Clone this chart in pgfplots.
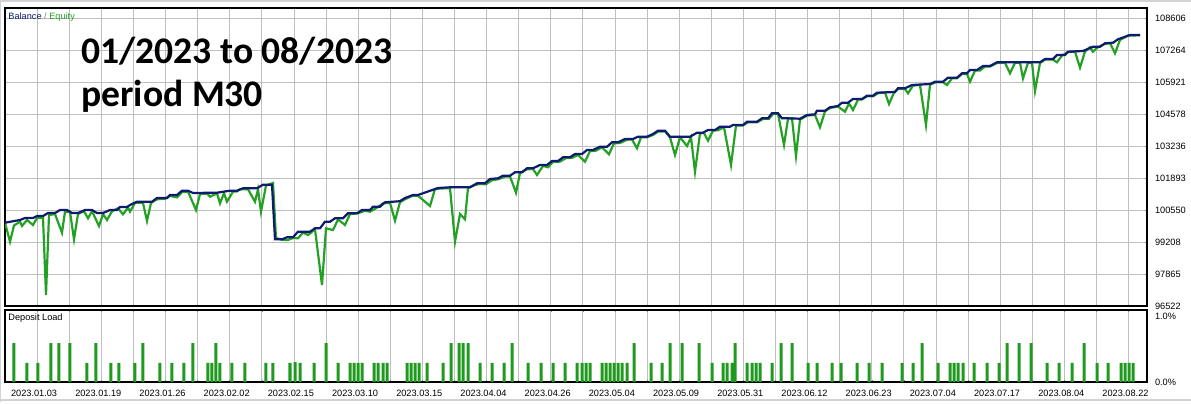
\documentclass[border=0pt]{standalone}
\usepackage{fontspec}
\setmainfont{Liberation Sans}
\newfontfamily\calibri{Carlito}
\usepackage{pgfplots}
\pgfplotsset{compat=1.18}
\definecolor{BalNavy}{HTML}{0F1B6E}
\definecolor{EqGreen}{HTML}{24A024}
\definecolor{BarGreen}{HTML}{1E9A1E}
\newcommand{\smallfnt}{\fontsize{4.6}{5}\selectfont}

\begin{document}
\begin{tikzpicture}
\useasboundingbox (0,0) rectangle (595.5pt,201.5pt);
\draw[gray!35, line width=0.8pt] (0,0.4pt) -- (0,201.1pt) -- (595.5pt,201.1pt);
\draw[gray!35, line width=0.8pt] (0,1.6pt) -- (595.5pt,1.6pt);

% balance / equity panel
\begin{axis}[
  at={(2.5pt,48.5pt)}, anchor=south west,
  scale only axis, width=571pt, height=149pt,
  xmin=5, xmax=1147, ymin=96522, ymax=109026,
  scaled x ticks=false, scaled y ticks=false,
  axis line style={black, line width=0.8pt},
  xtick={5,37.1,...,1140}, xticklabels={},
  xtick style={/pgfplots/major tick length=0pt},
  ytick={96522,97865,99208,100550,101893,103236,104578,105921,107264,108606},
  yticklabels={96522,97865,99208,100550,101893,103236,104578,105921,107264,108606},
  ytick pos=right, yticklabel pos=right,
  major tick length=1.2pt,
  yticklabel style={font=\smallfnt, anchor=west, xshift=0.5pt},
  grid=major,
]
\addplot[EqGreen, line width=1.1pt] coordinates {
(5,100017) (10,99220) (14,99900) (20,100060) (22,99880) (27,100130) (33,99921)
(37,100215) (43,100230) (46,96984) (49,100340) (55,100380) (62,99598) (65,100480)
(70,100480) (74,99321) (78,100380) (84,100500) (88,100202) (92,100500) (99,99879)
(103,100380) (107,100131) (112,100500) (118,100620) (123,100370) (128,100650)
(130,100479) (135,100850) (143,100850) (147,100089) (151,100850) (157,101000)
(165,101020) (170,101140) (177,101080) (182,101300) (188,101320) (196,100550)
(200,101220) (207,101240) (210,101108) (217,101250) (220,100831) (224,101250)
(227,100899) (233,101320) (237,101330) (240,101420) (248,101420) (255,100899)
(258,101420) (261,100479) (266,101580) (273,101683) (276,99375) (282,99300)
(288,99292) (293,99380) (298,99362) (303,99600) (308,99502) (315,99740)
(322,97403) (326,99780) (333,99711) (338,100150) (345,99921) (350,100380)
(358,100412) (365,100520) (370,100479) (377,100650) (383,100830) (390,100850)
(395,100101) (400,100880) (405,101000) (412,101140) (418,101150) (430,100718)
(435,101430) (440,101450) (450,101470) (455,99220) (460,100383) (465,100160)
(468,101473) (475,101600) (480,101640) (486,101630) (492,101800) (498,101840)
(505,101950) (510,101960) (516,101276) (520,102100) (527,102260) (533,102270)
(537,102019) (543,102400) (548,102342) (553,102570) (560,102580) (566,102730)
(572,102740) (578,102860) (585,102577) (590,103020) (596,103040) (602,103180)
(609,102888) (614,103350) (620,103360) (627,103500) (632,103510) (637,103139)
(641,103600) (647,103600) (653,103700) (658,103840) (665,103850) (670,103600)
(675,102858) (680,103600) (687,103236) (691,103600) (695,102157) (700,103770)
(704,103780) (708,103458) (713,103880) (718,103900) (724,104020) (731,102439)
(736,104090) (743,104100) (748,104230) (757,104230) (763,104370) (769,104380)
(773,104580) (778,104590) (784,103278) (788,104380) (792,104400) (796,102816)
(800,104340) (807,104510) (815,104540) (820,104020) (825,104690) (830,104830)
(838,104890) (845,104675) (849,105020) (853,104746) (858,105180) (862,105190)
(867,105320) (873,105320) (878,105450) (885,105480) (889,104998) (894,105480)
(898,105630) (905,105630) (908,105447) (913,105770) (920,105800) (926,104117)
(930,105810) (936,105910) (943,105910) (947,105795) (952,106080) (957,106080)
(962,106260) (967,106260) (970,105934) (975,106400) (980,106400) (985,106570)
(990,106570) (997,106720) (1005,106730) (1010,106286) (1015,106730) (1020,106730)
(1023,106076) (1028,106730) (1032,106730) (1035,105544) (1040,106720) (1045,106860)
(1053,106860) (1057,106748) (1062,107030) (1068,107170) (1075,107200) (1080,106521)
(1085,107200) (1090,107380) (1093,107193) (1098,107380) (1105,107520) (1110,107550)
(1115,107125) (1120,107690) (1128,107870) (1140,107880)
};
\addplot[BalNavy, line width=1.1pt] coordinates {
(5,100017) (20,100131) (25,100215) (33,100215) (37,100299) (43,100299) (48,100424)
(55,100424) (60,100550) (67,100550) (72,100424) (78,100424) (85,100550) (92,100550)
(97,100424) (103,100424) (110,100550) (117,100550) (120,100676) (127,100676)
(130,100760) (133,100823) (137,100899) (152,100899) (157,101054) (167,101054)
(170,101180) (177,101180) (182,101360) (188,101360) (193,101264) (200,101264)
(207,101276) (217,101276) (230,101360) (237,101360) (243,101461) (257,101461)
(263,101612) (272,101612) (275,99321) (282,99321) (287,99405) (293,99405)
(298,99640) (310,99640) (315,99782) (320,99782) (325,100059) (330,100059)
(335,100202) (343,100202) (348,100412) (357,100412) (362,100550) (370,100550)
(373,100689) (380,100689) (385,100873) (400,100920) (405,101054) (413,101180)
(418,101180) (438,101473) (450,101503) (470,101503) (477,101671) (485,101671)
(490,101851) (498,101880) (503,101990) (510,101990) (515,102132) (522,102132)
(527,102300) (533,102300) (540,102439) (547,102439) (552,102606) (558,102606)
(563,102762) (570,102762) (575,102900) (582,102900) (587,103068) (593,103068)
(600,103206) (607,103206) (612,103391) (618,103391) (625,103530) (633,103530)
(638,103626) (647,103626) (653,103739) (658,103878) (665,103878) (670,103626)
(690,103626) (697,103794) (703,103794) (708,103907) (715,103907) (720,104046)
(730,104046) (733,104117) (743,104117) (747,104255) (757,104255) (762,104398)
(768,104398) (772,104608) (778,104608) (782,104398) (788,104398) (800,104380)
(807,104537) (815,104566) (817,104717) (825,104717) (830,104860) (838,104914)
(842,105053) (848,105053) (853,105208) (862,105208) (867,105346) (873,105346)
(877,105472) (895,105502) (898,105657) (905,105657) (912,105795) (930,105837)
(935,105934) (943,105934) (948,106102) (957,106102) (962,106286) (967,106286)
(970,106425) (977,106425) (983,106593) (990,106593) (997,106748) (1040,106748)
(1045,106886) (1053,106886) (1057,107054) (1065,107054) (1068,107193) (1083,107222)
(1093,107402) (1100,107402) (1105,107545) (1113,107570) (1118,107713) (1130,107893)
(1140,107893)
};
\end{axis}

\node[anchor=west, font=\smallfnt, inner sep=0pt] at (4pt,193pt)
  {\textcolor{BalNavy}{Balance} \textcolor{gray}{/} \textcolor{EqGreen}{Equity}};
\node[anchor=base west, inner sep=0pt, font=\calibri\bfseries\fontsize{18.8}{20}\selectfont]
  at (40.5pt,170pt) {01/2023 to 08/2023};
\node[anchor=base west, inner sep=0pt, font=\calibri\bfseries\fontsize{18.8}{20}\selectfont]
  at (40.5pt,148.5pt) {period M30};

% deposit load panel
\begin{axis}[
  at={(2.5pt,10.5pt)}, anchor=south west,
  scale only axis, width=571pt, height=36pt,
  xmin=5, xmax=1147, ymin=0, ymax=1.09,
  axis line style={black, line width=0.8pt},
  xtick={5,37.1,...,1140},
  xticklabels={2023.01.03,,2023.01.19,,2023.01.26,,2023.02.02,,2023.02.15,,2023.03.10,,
    2023.03.15,,2023.04.04,,2023.04.26,,2023.05.04,,2023.05.09,,2023.05.31,,2023.06.12,,
    2023.06.23,,2023.07.04,,2023.07.17,,2023.08.04,,2023.08.22,},
  xticklabel style={font=\smallfnt, anchor=north west, xshift=-0.5pt, yshift=-0.5pt},
  ytick={0,1}, yticklabels={0.0\%,1.0\%},
  ytick pos=right, yticklabel pos=right,
  ytick style={/pgfplots/major tick length=0pt},
  yticklabel style={font=\smallfnt, anchor=west, xshift=0.5pt},
  major tick length=1.2pt,
  xmajorgrids=true,
]
\addplot[ybar, bar width=1.5pt, fill=BarGreen, draw=none] coordinates {
(14,0.59) (27,0.29) (38,0.29) (51,0.59) (59,0.59) (70,0.59) (87,0.29) (96,0.59)
(111,0.29) (119,0.29) (135,0.29) (143,0.59) (160,0.29) (172,0.29) (184,0.29)
(193,0.59) (208,0.29) (212,0.29) (216,0.59) (220,0.29) (232,0.29) (245,0.29)
(266,0.29) (273,0.29) (290,0.29) (295,0.30) (300,0.29) (314,0.29) (326,0.59)
(338,0.29) (350,0.29) (354,0.29) (358,0.29) (362,0.29) (374,0.29) (378,0.29)
(383,0.29) (387,0.29) (407,0.29) (411,0.29) (415,0.29) (419,0.29) (427,0.29)
(443,0.29) (451,0.59) (459,0.59) (463,0.59) (468,0.59) (480,0.29) (492,0.29)
(504,0.29) (512,0.59) (528,0.29) (541,0.29) (553,0.29) (565,0.29) (577,0.29)
(582,0.29) (586,0.29) (590,0.29) (602,0.29) (606,0.29) (610,0.29) (614,0.29)
(618,0.29) (622,0.29) (627,0.29) (634,0.59) (651,0.29) (662,0.29) (670,0.59)
(682,0.59) (699,0.59) (712,0.29) (723,0.29) (727,0.29) (732,0.29) (735,0.59)
(747,0.29) (752,0.29) (756,0.29) (760,0.29) (772,0.29) (781,0.59) (792,0.59)
(808,0.29) (817,0.29) (832,0.29) (841,0.29) (857,0.29) (869,0.29) (882,0.29)
(902,0.29) (913,0.29) (922,0.59) (938,0.29) (950,0.29) (954,0.29) (958,0.29)
(963,0.29) (974,0.29) (987,0.29) (999,0.29) (1007,0.59) (1019,0.59) (1031,0.59)
(1047,0.29) (1059,0.29) (1072,0.29) (1084,0.59) (1097,0.29) (1108,0.29)
(1121,0.29) (1125,0.29) (1129,0.29) (1133,0.29)
};
\end{axis}
\node[anchor=west, font=\smallfnt, inner sep=0pt] at (4pt,42.5pt) {Deposit Load};
\end{tikzpicture}
\end{document}
